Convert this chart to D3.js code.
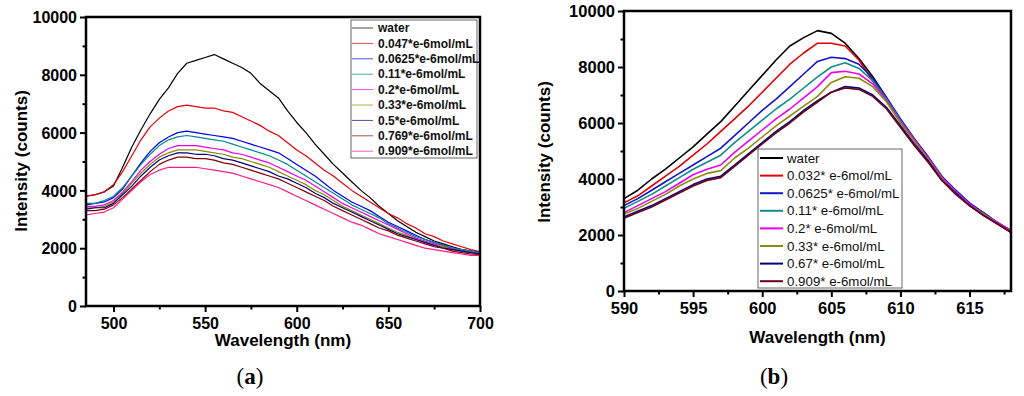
<!DOCTYPE html>
<html>
<head>
<meta charset="utf-8">
<script src="https://cdn.jsdelivr.net/npm/d3@7"></script>
<style>
  body { margin: 0; background: #fff; }
  svg { display: block; }
</style>
</head>
<body>
<svg id="chart" width="1024" height="396"></svg>
<script>
// panel (a): wavelength every 5 nm
const wlA = [485, 490, 495, 500, 505, 510, 515, 520, 525, 530, 535, 540, 545, 550, 555,
  560, 565, 570, 575, 580, 585, 590, 595, 600, 605, 610, 615, 620, 625, 630, 635, 640,
  645, 650, 655, 660, 665, 670, 675, 680, 685, 690, 695, 700]
const namesA = ['water', '0.047*e-6mol/mL', '0.0625*e-6mol/mL', '0.11*e-6mol/mL',
  '0.2*e-6mol/mL', '0.33*e-6mol/mL', '0.5*e-6mol/mL', '0.769*e-6mol/mL', '0.909*e-6mol/mL']
const waterA = [3800, 3850, 3950, 4150, 4800, 5500, 6100, 6650, 7150, 7550, 8050, 8400, 8500, 8600, 8700,
  8550, 8400, 8250, 8050, 7700, 7450, 7200, 6750, 6350, 6000, 5600, 5250, 4900, 4600, 4300, 4000, 3750,
  3450, 3200, 2950, 2750, 2550, 2400, 2250, 2150, 2050, 1950, 1900, 1850]
const c047A = [3800, 3850, 3950, 4200, 4650, 5200, 5750, 6200, 6500, 6750, 6900, 6950, 6900, 6850, 6850,
  6750, 6700, 6550, 6400, 6250, 6050, 5900, 5650, 5400, 5200, 4950, 4700, 4500, 4250, 4000, 3800, 3600,
  3400, 3200, 3050, 2850, 2700, 2500, 2400, 2250, 2150, 2050, 1950, 1880]
const c0625A = [3500, 3550, 3600, 3750, 4050, 4500, 4950, 5350, 5650, 5850, 6000, 6050, 6000, 5950, 5900,
  5850, 5800, 5700, 5600, 5500, 5400, 5300, 5100, 4900, 4700, 4500, 4250, 4000, 3800, 3600, 3450, 3300,
  3100, 2900, 2750, 2600, 2450, 2300, 2200, 2100, 2000, 1950, 1900, 1850]
const c011A = [3550, 3550, 3650, 3800, 4100, 4500, 4900, 5250, 5550, 5750, 5850, 5900, 5850, 5800, 5750,
  5700, 5600, 5500, 5400, 5300, 5200, 5050, 4900, 4700, 4500, 4300, 4100, 3900, 3700, 3500, 3350, 3200,
  3050, 2850, 2700, 2550, 2400, 2300, 2200, 2100, 2000, 1950, 1900, 1850]
const c02A = [3450, 3450, 3500, 3650, 3950, 4300, 4700, 5000, 5250, 5450, 5550, 5550, 5550, 5500, 5450,
  5400, 5300, 5250, 5150, 5050, 4950, 4800, 4650, 4500, 4350, 4150, 3950, 3750, 3550, 3400, 3250, 3100,
  2950, 2800, 2650, 2500, 2350, 2250, 2150, 2050, 1980, 1900, 1850, 1800]
const c033A = [3400, 3400, 3450, 3600, 3900, 4250, 4600, 4900, 5150, 5300, 5400, 5400, 5400, 5350, 5300,
  5250, 5150, 5100, 5000, 4900, 4800, 4650, 4500, 4350, 4200, 4000, 3850, 3650, 3450, 3300, 3150, 3000,
  2850, 2700, 2550, 2450, 2300, 2200, 2100, 2050, 1950, 1900, 1850, 1800]
const c05A = [3350, 3400, 3400, 3550, 3850, 4150, 4500, 4800, 5050, 5200, 5300, 5300, 5250, 5250, 5200,
  5100, 5050, 4950, 4850, 4750, 4650, 4500, 4400, 4250, 4100, 3900, 3750, 3550, 3400, 3250, 3100, 2950,
  2800, 2650, 2500, 2400, 2300, 2200, 2100, 2000, 1950, 1900, 1850, 1800]
const c0769A = [3300, 3300, 3350, 3500, 3750, 4050, 4350, 4650, 4900, 5050, 5150, 5150, 5100, 5100, 5050,
  4950, 4900, 4800, 4700, 4600, 4500, 4400, 4250, 4100, 3950, 3800, 3650, 3450, 3300, 3150, 3000, 2850,
  2700, 2600, 2450, 2350, 2250, 2150, 2050, 2000, 1900, 1850, 1800, 1780]
const c0909A = [3150, 3200, 3250, 3400, 3700, 4000, 4300, 4550, 4700, 4800, 4800, 4800, 4800, 4750, 4700,
  4650, 4600, 4500, 4400, 4300, 4200, 4100, 3950, 3800, 3650, 3500, 3350, 3200, 3050, 2900, 2800, 2650,
  2500, 2400, 2300, 2200, 2100, 2000, 1950, 1900, 1850, 1800, 1750, 1750]
const colorsA = ['#000000', '#e8000b', '#0000ee', '#008b8b', '#ee00ee', '#8b8b00', '#000080', '#800000', '#ff1a8c']

// panel (b): wavelength every 1 nm
const wlB = [590, 591, 592, 593, 594, 595, 596, 597, 598, 599, 600, 601, 602, 603, 604,
  605, 606, 607, 608, 609, 610, 611, 612, 613, 614, 615, 616, 617, 618]
const namesB = ['water', '0.032* e-6mol/mL', '0.0625* e-6mol/mL', '0.11* e-6mol/mL',
  '0.2* e-6mol/mL', '0.33* e-6mol/mL', '0.67* e-6mol/mL', '0.909* e-6mol/mL']
const waterB = [3300, 3600, 4000, 4350, 4750, 5150, 5600, 6050, 6600, 7150, 7700, 8250, 8750, 9050, 9300,
  9200, 8850, 8300, 7650, 6900, 6100, 5400, 4750, 4050, 3550, 3100, 2800, 2450, 2150]
const c032B = [3150, 3400, 3750, 4100, 4450, 4850, 5250, 5700, 6150, 6600, 7100, 7600, 8100, 8500, 8850,
  8850, 8750, 8250, 7500, 6850, 6050, 5400, 4750, 4050, 3550, 3100, 2750, 2450, 2150]
const c0625B = [3050, 3300, 3600, 3900, 4200, 4500, 4800, 5100, 5550, 6000, 6450, 6850, 7300, 7750, 8200,
  8350, 8300, 8100, 7600, 6900, 6150, 5450, 4800, 4100, 3600, 3150, 2800, 2450, 2150]
const c011B = [2950, 3200, 3450, 3750, 4050, 4350, 4600, 4850, 5300, 5700, 6100, 6500, 6850, 7250, 7650,
  8000, 8150, 7950, 7500, 6850, 6100, 5400, 4750, 4050, 3550, 3100, 2750, 2450, 2150]
const c02B = [2800, 3050, 3300, 3550, 3850, 4150, 4350, 4500, 4950, 5350, 5750, 6150, 6500, 6900, 7300,
  7800, 7850, 7750, 7400, 6800, 6050, 5400, 4750, 4050, 3550, 3100, 2750, 2450, 2150]
const c033B = [2750, 2950, 3200, 3450, 3750, 4000, 4200, 4300, 4750, 5100, 5500, 5900, 6250, 6600, 6950,
  7450, 7650, 7600, 7300, 6750, 6000, 5350, 4700, 4000, 3500, 3050, 2750, 2400, 2100]
const c067B = [2650, 2850, 3050, 3300, 3550, 3800, 4000, 4100, 4500, 4900, 5300, 5700, 6050, 6450, 6800,
  7100, 7300, 7250, 7000, 6550, 5900, 5250, 4650, 3950, 3500, 3050, 2700, 2400, 2100]
const c0909B = [2600, 2800, 3000, 3250, 3500, 3750, 3950, 4050, 4450, 4850, 5250, 5650, 6000, 6400, 6750,
  7100, 7250, 7200, 6950, 6500, 5850, 5200, 4600, 3950, 3450, 3050, 2700, 2400, 2100]
const colorsB = ['#000000', '#e00000', '#1515c8', '#108c8c', '#ee00ee', '#8c8c10', '#000080', '#6e0018']

const yTicks = [0, 2000, 4000, 6000, 8000, 10000]

const svg = d3.select('#chart')

function drawPanel (cfg) {
  const g = svg.append('g')
  const x = d3.scaleLinear().domain(cfg.xDomain).range([cfg.left, cfg.right])
  const y = d3.scaleLinear().domain([0, 10000]).range([cfg.bottom, cfg.top])

  g.append('clipPath').attr('id', 'clip-' + cfg.id)
    .append('rect')
    .attr('x', cfg.left).attr('y', cfg.top)
    .attr('width', cfg.right - cfg.left).attr('height', cfg.bottom - cfg.top)

  // series
  const line = d3.line().x((d, i) => x(cfg.wl[i])).y(d => y(d))
  g.append('g').attr('clip-path', `url(#clip-${cfg.id})`)
    .selectAll('path')
    .data(cfg.series)
    .join('path')
    .attr('d', d => line(d))
    .attr('fill', 'none')
    .attr('stroke', (d, i) => cfg.colors[i])
    .attr('stroke-width', cfg.lineWidth)
    .attr('stroke-linejoin', 'round')

  // minor ticks
  g.append('g')
    .attr('transform', `translate(0,${cfg.bottom})`)
    .call(d3.axisBottom(x).tickValues(cfg.xMinor).tickSize(3.5).tickFormat(''))
  g.append('g')
    .attr('transform', `translate(${cfg.left},0)`)
    .call(d3.axisLeft(y).tickValues([1000, 3000, 5000, 7000, 9000]).tickSize(3.5).tickFormat(''))

  // major ticks
  const xAxis = g.append('g')
    .attr('transform', `translate(0,${cfg.bottom})`)
    .call(d3.axisBottom(x).tickValues(cfg.xTicks).tickSize(6).tickPadding(cfg.xPad).tickFormat(d3.format('d')))
  const yAxis = g.append('g')
    .attr('transform', `translate(${cfg.left},0)`)
    .call(d3.axisLeft(y).tickValues(yTicks).tickSize(6).tickPadding(3).tickFormat(d3.format('d')))

  g.selectAll('.tick line').attr('stroke', '#000').attr('stroke-width', 2)
  g.selectAll('.domain').remove()
  xAxis.selectAll('text').attr('font-size', cfg.tickFont)
  yAxis.selectAll('text').attr('font-size', cfg.tickFont).attr('dy', '0.36em')
  g.selectAll('.tick text')
    .attr('font-family', 'Liberation Sans, Arial, sans-serif')
    .attr('font-weight', 'bold')
    .attr('fill', '#000')

  // frame
  g.append('rect')
    .attr('x', cfg.left).attr('y', cfg.top)
    .attr('width', cfg.right - cfg.left).attr('height', cfg.bottom - cfg.top)
    .attr('fill', 'none').attr('stroke', '#000').attr('stroke-width', 2.5)

  // axis titles
  g.append('text')
    .attr('x', (cfg.left + cfg.right) / 2).attr('y', cfg.xTitleY)
    .attr('text-anchor', 'middle')
    .attr('font-family', 'Liberation Sans, Arial, sans-serif')
    .attr('font-weight', 'bold').attr('font-size', 17)
    .text('Wavelength (nm)')
  g.append('text')
    .attr('transform', `translate(${cfg.yTitleX},${cfg.yTitleY}) rotate(-90)`)
    .attr('text-anchor', 'middle')
    .attr('font-family', 'Liberation Sans, Arial, sans-serif')
    .attr('font-weight', 'bold').attr('font-size', 17)
    .text('Intensity (counts)')

  // legend
  const L = cfg.legend
  const lg = g.append('g')
  lg.append('rect')
    .attr('x', L.x).attr('y', L.y).attr('width', L.w).attr('height', L.h)
    .attr('fill', '#fff').attr('stroke', '#666').attr('stroke-width', 1)
  const rows = lg.selectAll('.row')
    .data(cfg.names)
    .join('g')
    .attr('class', 'row')
    .attr('transform', (d, i) => `translate(${L.x},${L.y0 + i * L.step})`)
  rows.append('line')
    .attr('x1', L.lx1).attr('x2', L.lx2)
    .attr('stroke', (d, i) => cfg.colors[i])
    .attr('stroke-width', L.lw)
    .attr('opacity', L.op)
  rows.append('text')
    .attr('x', L.tx).attr('dy', '0.35em')
    .attr('font-family', 'Liberation Sans, Arial, sans-serif')
    .attr('font-weight', L.weight).attr('font-size', L.font)
    .attr('fill', '#111')
    .text(d => d)

  // caption
  const cap = g.append('text')
    .attr('x', cfg.capX).attr('y', 384)
    .attr('text-anchor', 'middle')
    .attr('font-family', 'Liberation Serif, Times New Roman, serif')
    .attr('font-size', 23)
  cap.append('tspan').text('(')
  cap.append('tspan').attr('font-weight', 'bold').text(cfg.capLetter)
  cap.append('tspan').text(')')
}

drawPanel({
  id: 'a',
  left: 86, right: 480, top: 17, bottom: 306,
  xDomain: [485, 700],
  xTicks: [500, 550, 600, 650, 700],
  xMinor: [525, 575, 625, 675],
  xPad: 6,
  tickFont: 16,
  wl: wlA,
  series: [waterA, c047A, c0625A, c011A, c02A, c033A, c05A, c0769A, c0909A],
  colors: colorsA,
  names: namesA,
  lineWidth: 1.2,
  xTitleY: 346,
  yTitleX: 27, yTitleY: 161,
  legend: { x: 351, y: 20, w: 126, h: 138, y0: 28, step: 15.4, lx1: 1, lx2: 22, lw: 1, op: 0.7, tx: 27, font: 12, weight: 'bold' },
  capX: 250, capLetter: 'a'
})

drawPanel({
  id: 'b',
  left: 624, right: 1011, top: 11, bottom: 291,
  xDomain: [590, 618],
  xTicks: [590, 595, 600, 605, 610, 615],
  xMinor: [592.5, 597.5, 602.5, 607.5, 612.5, 617.5],
  xPad: 5,
  tickFont: 16.5,
  wl: wlB,
  series: [waterB, c032B, c0625B, c011B, c02B, c033B, c067B, c0909B],
  colors: colorsB,
  names: namesB,
  lineWidth: 1.6,
  xTitleY: 343,
  yTitleX: 550, yTitleY: 152,
  legend: { x: 758, y: 149, w: 144, h: 139, y0: 158, step: 17.6, lx1: 2, lx2: 25, lw: 2, op: 1, tx: 29, font: 13.3, weight: 'normal' },
  capX: 774, capLetter: 'b'
})
</script>
</body>
</html>
